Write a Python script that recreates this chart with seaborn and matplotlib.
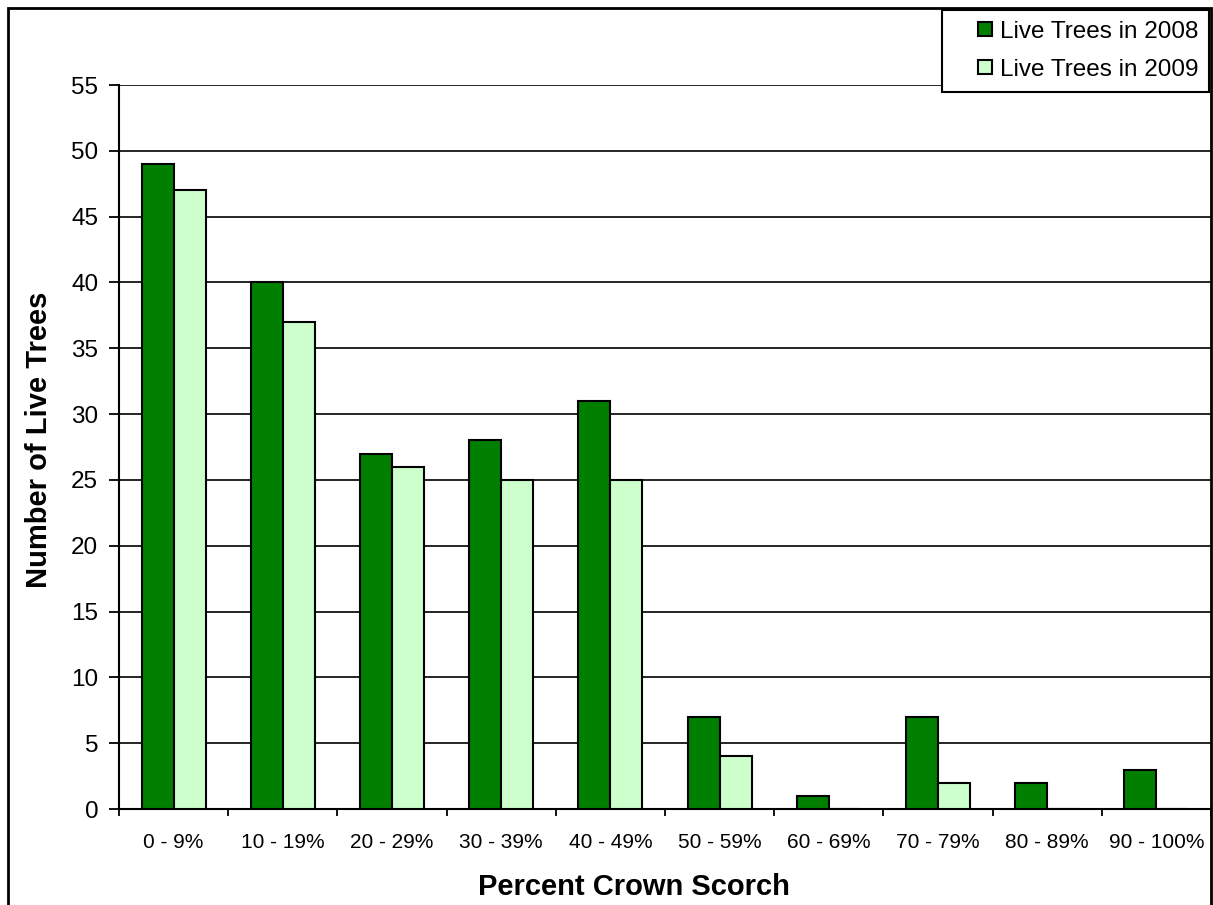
import matplotlib
matplotlib.use("Agg")
import matplotlib.pyplot as plt
import seaborn as sns
import pandas as pd
import numpy as np
from matplotlib.patches import Rectangle
from matplotlib.legend_handler import HandlerPatch

categories = ["0 - 9%", "10 - 19%", "20 - 29%", "30 - 39%", "40 - 49%",
              "50 - 59%", "60 - 69%", "70 - 79%", "80 - 89%", "90 - 100%"]
live_2008 = [49, 40, 27, 28, 31, 7, 1, 7, 2, 3]
live_2009 = [47, 37, 26, 25, 25, 4, 0, 2, 0, 0]
series_names = ["Live Trees in 2008", "Live Trees in 2009"]
colors = ["#007F00", "#CCFFCC"]

df = pd.DataFrame({
    "cat": categories * 2,
    "val": live_2008 + live_2009,
    "series": [series_names[0]] * len(categories) + [series_names[1]] * len(categories),
})

sns.set_theme(style="white")
plt.rcParams["font.family"] = ["Liberation Sans", "DejaVu Sans"]
plt.rcParams["text.color"] = "black"
plt.rcParams["axes.labelcolor"] = "black"
plt.rcParams["xtick.color"] = "black"
plt.rcParams["ytick.color"] = "black"

W, H = 1213, 905
fig = plt.figure(figsize=(W / 100, H / 100), dpi=100)
ax = fig.add_axes([119 / W, 1 - 809 / H, (1211 - 119) / W, (809 - 85) / H])

sns.barplot(data=df, x="cat", y="val", hue="series", palette=colors,
            width=0.586, gap=0, edgecolor="black", linewidth=1.5,
            saturation=1, ax=ax, legend=True, zorder=3)

ax.set_xlim(-0.5, len(categories) - 0.5)
ax.set_ylim(0, 55)
ax.set_yticks(np.arange(0, 56, 5))
ax.yaxis.grid(True, color="black", linewidth=1.2, zorder=0)
ax.xaxis.grid(False)
ax.set_axisbelow(True)

for s in ["top", "right"]:
    ax.spines[s].set_visible(False)
for s in ["left", "bottom"]:
    ax.spines[s].set_color("black")
    ax.spines[s].set_linewidth(1.5)

ax.tick_params(axis="y", which="major", direction="out", length=7, width=1.3,
               color="black", labelcolor="black", labelsize=17.5, pad=8, left=True)
ax.tick_params(axis="x", which="major", length=0, labelsize=15, pad=17,
               labelcolor="black")
ax.set_xticks(np.arange(-0.5, len(categories), 1.0), minor=True)
ax.tick_params(axis="x", which="minor", direction="out", length=5, width=1.3,
               color="black", bottom=True)

ax.set_xlabel("Percent Crown Scorch", fontsize=21, fontweight="bold", color="black")
ax.set_ylabel("Number of Live Trees", fontsize=21, fontweight="bold", color="black")
ax.xaxis.label.set_va("baseline")
ax.xaxis.set_label_coords((634 - 119) / 1092, (809 - 895) / 724)
ax.yaxis.label.set_va("baseline")
ax.yaxis.set_label_coords((47 - 119) / 1092, (809 - 440) / 724)

SQ = 10.0  # legend square size in points


def square_patch(legend, orig_handle, xdescent, ydescent, width, height, fontsize):
    return Rectangle((-xdescent + width - SQ, -ydescent + (height - SQ) / 2), SQ, SQ)


handles, labels = ax.get_legend_handles_labels()
leg = ax.legend(handles, labels, loc="upper right",
                bbox_to_anchor=(1209 / W, 1 - 10 / H),
                bbox_transform=fig.transFigure, fontsize=17.5, frameon=True,
                fancybox=False, shadow=False, borderpad=0.45, handlelength=1.6,
                handleheight=0.58, handletextpad=0.3, labelspacing=0.65,
                borderaxespad=0,
                handler_map={h: HandlerPatch(patch_func=square_patch) for h in handles})
leg.get_frame().set_edgecolor("black")
leg.get_frame().set_linewidth(1.5)
leg.get_frame().set_alpha(1)
for t in leg.get_texts():
    t.set_color("black")
leg.set_zorder(10)

fig.patches.append(Rectangle((8 / W, -10 / H), (1211 - 8) / W, (897 + 10) / H,
                             transform=fig.transFigure, fill=False,
                             edgecolor="black", linewidth=2, zorder=0))

fig.savefig("out.png", dpi=100)
